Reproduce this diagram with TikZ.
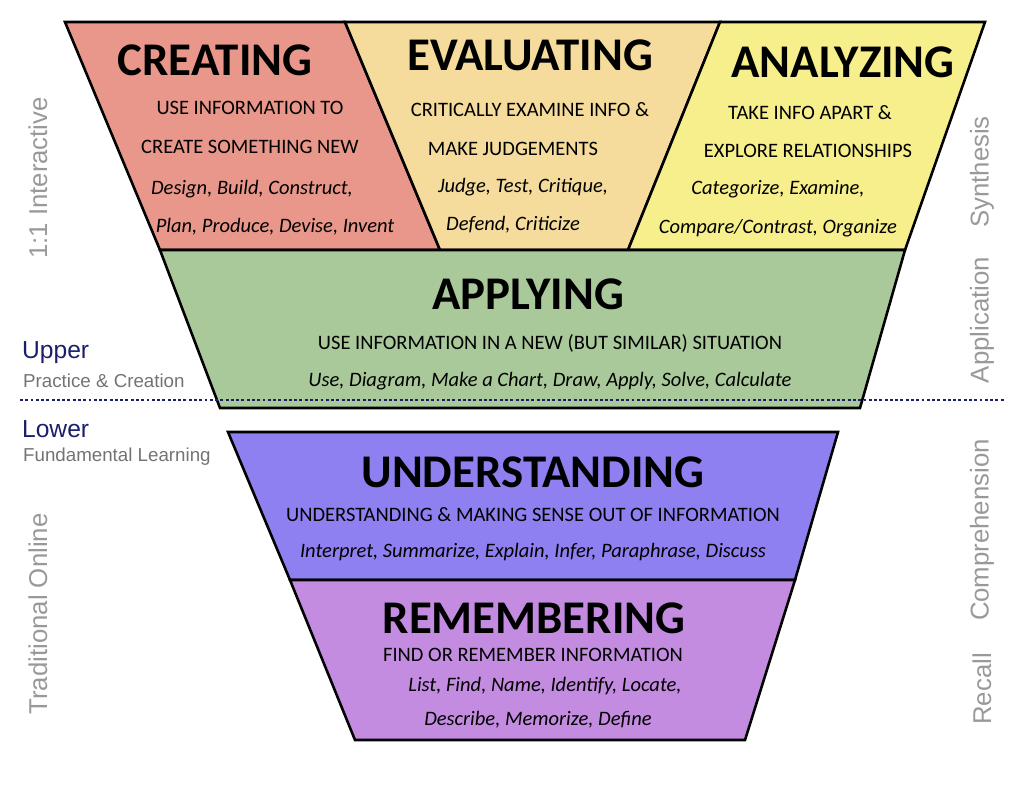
\documentclass[tikz,border=0pt]{standalone}
\usepackage{fontspec}
\setmainfont{Carlito}
\newfontfamily\sidefont{Liberation Sans}
\usetikzlibrary{positioning}
\definecolor{crea}{HTML}{E8978A}
\definecolor{eval}{HTML}{F5DC9C}
\definecolor{anal}{HTML}{F7EF8C}
\definecolor{appl}{HTML}{A9C99B}
\definecolor{unde}{HTML}{8E80F0}
\definecolor{reme}{HTML}{C38CE0}
\definecolor{navy}{HTML}{1B1F6B}
\tikzset{band/.style={draw=black,line width=2.2pt,line join=miter},
  ttl/.style={font=\fontsize{40}{44}\selectfont\bfseries},
  txt/.style={font=\fontsize{17.5}{20}\selectfont,align=center},
  verb/.style={font=\fontsize{17.5}{20}\selectfont\itshape,align=center},
  side/.style={font=\sidefont\fontsize{22}{24}\selectfont,text=gray!80,rotate=90},
  lvl/.style={font=\sidefont\fontsize{21}{24}\selectfont,text=navy,anchor=west},
  sub/.style={font=\sidefont\fontsize{16}{18}\selectfont,text=gray!90!black,anchor=west}}
\begin{document}
\begin{tikzpicture}[x=0.03cm,y=-0.03cm]
\useasboundingbox (0,0) rectangle (1024,798);
% bands
\filldraw[band,fill=crea] (65,22) -- (345,22) -- (440,250) -- (160,250) -- cycle;
\filldraw[band,fill=eval] (345,22) -- (720,22) -- (628,250) -- (440,250) -- cycle;
\filldraw[band,fill=anal] (720,22) -- (985,22) -- (905,250) -- (628,250) -- cycle;
\filldraw[band,fill=appl] (160,250) -- (905,250) -- (860,408) -- (220,408) -- cycle;
\filldraw[band,fill=unde] (228,432) -- (838,432) -- (795,580) -- (290,580) -- cycle;
\filldraw[band,fill=reme] (290,580) -- (795,580) -- (745,740) -- (355,740) -- cycle;
\draw[navy,line width=1.8pt,dash pattern=on 2.5pt off 2pt] (20,400) -- (1005,400);
% creating
\node[ttl] (creT) at (215,60) {CREATING};
\node[txt] (creA) at (250,108) {USE INFORMATION TO};
\node[txt] (creB) at (250,147) {CREATE SOMETHING NEW};
\node[verb] (creC) at (252,189) {Design, Build, Construct,};
\node[verb] (creD) at (275,227) {Plan, Produce, Devise, Invent};
% evaluating
\node[ttl] (evaT) at (530,55) {EVALUATING};
\node[txt] (evaA) at (530,110) {CRITICALLY EXAMINE INFO \&};
\node[txt] (evaB) at (513,149) {MAKE JUDGEMENTS};
\node[verb] (evaC) at (523,187) {Judge, Test, Critique,};
\node[verb] (evaD) at (513,225) {Defend, Criticize};
% analyzing
\node[ttl] (anaT) at (843,62) {ANALYZING};
\node[txt] (anaA) at (810,113) {TAKE INFO APART \&};
\node[txt] (anaB) at (808,151) {EXPLORE RELATIONSHIPS};
\node[verb] (anaC) at (778,189) {Categorize, Examine,};
\node[verb] (anaD) at (778,228) {Compare/Contrast, Organize};
% applying
\node[ttl] (appT) at (528,294) {APPLYING};
\node[txt] (appA) at (550,343) {USE INFORMATION IN A NEW (BUT SIMILAR) SITUATION};
\node[verb] (appB) at (550,381) {Use, Diagram, Make a Chart, Draw, Apply, Solve, Calculate};
% understanding
\node[ttl] (undT) at (533,472) {UNDERSTANDING};
\node[txt] (undA) at (533,515) {UNDERSTANDING \& MAKING SENSE OUT OF INFORMATION};
\node[verb] (undB) at (533,552) {Interpret, Summarize, Explain, Infer, Paraphrase, Discuss};
% remembering
\node[ttl] (remT) at (534,618) {REMEMBERING};
\node[txt] (remA) at (533,655) {FIND OR REMEMBER INFORMATION};
\node[verb] (remB) at (545,686) {List, Find, Name, Identify, Locate,};
\node[verb] (remC) at (538,720) {Describe, Memorize, Define};
% side labels
\node[side] (inter) at (38,178) {1:1 Interactive};
\node[side] (trad) at (38,614) {Traditional Online};
\node[side] (syn) at (982,172) {Synthesis};
\node[side] (app) at (982,320) {Application};
\node[side] (comp) at (982,530) {Comprehension};
\node[side] (rec) at (982,689) {Recall};
\node[lvl] (upper) at (18,353) {Upper};
\node[sub] (upperS) at (19,381) {Practice \& Creation};
\node[lvl] (lower) at (18,429) {Lower};
\node[sub] (lowerS) at (19,457) {Fundamental Learning};
\end{tikzpicture}
\end{document}
